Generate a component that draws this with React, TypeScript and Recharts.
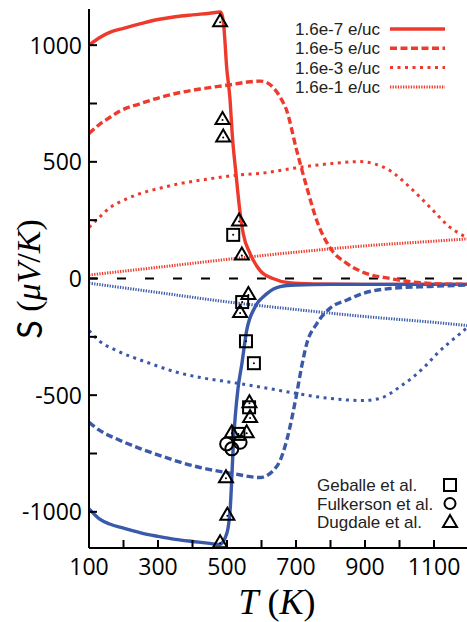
import React from "react";
import { ComposedChart, Line, Scatter, XAxis, YAxis, ReferenceLine } from "recharts";

const RED = "#ee3a2c";
const BLUE = "#3b59aa";

// T (K) vs S (µV/K), one array per doping level
const pos7: [number, number][] = [
  [100, 1000], [130, 1032], [160, 1055], [200, 1072], [250, 1092], [300, 1110], [350, 1122],
  [400, 1130], [450, 1137], [480, 1142], [486, 1128], [491, 1077], [499, 906], [509, 763],
  [515, 621], [526, 450], [536, 306], [547, 193], [567, 107], [596, 34], [633, 0], [680, -18],
  [750, -23], [900, -25], [1200, -25],
];
const neg7: [number, number][] = [
  [100, -987], [130, -1030], [160, -1052], [200, -1070], [250, -1090], [300, -1105], [350, -1118],
  [400, -1127], [450, -1135], [478, -1140], [495, -1110], [505, -1050], [510, -970], [514, -852],
  [518, -720], [524, -590], [532, -470], [543, -366], [557, -223], [581, -123], [615, -66],
  [654, -35], [700, -28], [800, -25], [1200, -25],
];
const pos5: [number, number][] = [
  [100, 621], [130, 660], [160, 690], [190, 718], [250, 750], [306, 776], [364, 797], [422, 812],
  [517, 832], [560, 842], [596, 846], [615, 840], [633, 820], [653, 780], [673, 720], [702, 549],
  [731, 392], [760, 249], [798, 133], [848, 64], [894, 27], [972, 0], [1088, -21], [1200, -25],
];
const neg5: [number, number][] = [
  [100, -616], [130, -650], [190, -694], [250, -730], [306, -759], [364, -787], [422, -810],
  [517, -836], [596, -853], [634, -823], [654, -780], [673, -694], [702, -494], [716, -380],
  [731, -280], [760, -194], [798, -128], [848, -92], [894, -64], [972, -43], [1088, -34], [1200, -28],
];
const pos3: [number, number][] = [
  [100, 219], [130, 262], [161, 304], [200, 335], [248, 364], [300, 385], [364, 407], [440, 425],
  [517, 441], [605, 452], [700, 474], [749, 484], [820, 495], [885, 501], [930, 490], [972, 463],
  [1030, 391], [1088, 306], [1146, 220], [1185, 184], [1200, 175],
];
const neg3: [number, number][] = [
  [100, -223], [130, -268], [181, -309], [277, -364], [350, -400], [422, -424], [517, -446],
  [605, -467], [702, -493], [798, -514], [894, -523], [940, -515], [972, -494], [1000, -465],
  [1039, -423], [1075, -375], [1108, -323], [1140, -280], [1175, -237], [1200, -205],
];
const pos1: [number, number][] = [
  [100, 15], [300, 48], [500, 82], [700, 113], [900, 140], [1100, 160], [1200, 170],
];
const neg1: [number, number][] = [
  [100, -20], [300, -60], [500, -100], [700, -133], [900, -163], [1100, -188], [1200, -202],
];

// experiments
const geballe: [number, number][] = [
  [518, 187], [544, -101], [555, -269], [578, -363], [564, -552], [533, -666],
];
const fulkerson: [number, number][] = [
  [499, -709], [514, -730], [538, -702],
];
const dugdale: [number, number][] = [
  [480, 1103], [487, 684], [489, 609], [535, 249], [543, 103], [562, -66], [538, -144],
  [565, -530], [567, -594], [514, -659], [557, -659], [497, -852], [501, -1012], [480, -1130],
];

const xTicks = [100, 200, 300, 400, 500, 600, 700, 800, 900, 1000, 1100, 1200];
const yTicks = [-1000, -750, -500, -250, 0, 250, 500, 750, 1000];
const legendLabels = ["1.6e-7 e/uc", "1.6e-5 e/uc", "1.6e-3 e/uc", "1.6e-1 e/uc"];
const expLabels = ["Geballe et al.", "Fulkerson et al.", "Dugdale et al."];

const pts = (a: [number, number][]) => a.map(([x, y]) => ({ x, y }));

const styles = [
  { dash: undefined, width: 3.4 },
  { dash: "7 3.5", width: 3.4 },
  { dash: "3 4.5", width: 3 },
  { dash: "1.3 1.3", width: 3 },
];

const series = [
  { id: "pos7", data: pos7, color: RED, s: 0 },
  { id: "neg7", data: neg7, color: BLUE, s: 0 },
  { id: "pos5", data: pos5, color: RED, s: 1 },
  { id: "neg5", data: neg5, color: BLUE, s: 1 },
  { id: "pos3", data: pos3, color: RED, s: 2 },
  { id: "neg3", data: neg3, color: BLUE, s: 2 },
  { id: "pos1", data: pos1, color: RED, s: 3 },
  { id: "neg1", data: neg1, color: BLUE, s: 3 },
];

const TICK_FONT = "'Open Sans', sans-serif";

const BottomTick = ({ x, y, payload }: any) => {
  const v = payload.value;
  return (
    <g>
      <line x1={x} x2={x} y1={y} y2={y - 8} stroke="#000" strokeWidth={2} />
      {v % 200 === 100 ? (
        <text x={x} y={y + 27} textAnchor="middle" fontSize={23} fontFamily={TICK_FONT} fill="#000">
          {v}
        </text>
      ) : null}
    </g>
  );
};

const TopTick = ({ x, y }: any) => (
  <line x1={x} x2={x} y1={y} y2={y + 8} stroke="#000" strokeWidth={2} />
);

const LeftTick = ({ x, y, payload }: any) => {
  const v = payload.value;
  return (
    <g>
      <line x1={x} x2={x + 8} y1={y} y2={y} stroke="#000" strokeWidth={2} />
      {v % 500 === 0 ? (
        <text x={x - 7} y={y + 8.5} textAnchor="end" fontSize={23} fontFamily={TICK_FONT} fill="#000">
          {v}
        </text>
      ) : null}
    </g>
  );
};

const RightTick = ({ x, y }: any) => (
  <line x1={x} x2={x - 8} y1={y} y2={y} stroke="#000" strokeWidth={2} />
);

const Square = ({ cx, cy }: any) => (
  <g>
    <rect x={cx - 6} y={cy - 6} width={12} height={12} fill="none" stroke="#000" strokeWidth={2} />
    <circle cx={cx} cy={cy} r={1} fill="#000" />
  </g>
);
const Circle = ({ cx, cy }: any) => (
  <circle cx={cx} cy={cy} r={6.5} fill="none" stroke="#000" strokeWidth={2} />
);
const Triangle = ({ cx, cy }: any) => (
  <g>
    <polygon
      points={`${cx},${cy - 7} ${cx - 7},${cy + 5} ${cx + 7},${cy + 5}`}
      fill="none"
      stroke="#000"
      strokeWidth={2}
      strokeLinejoin="miter"
    />
    <circle cx={cx} cy={cy + 1} r={1} fill="#000" />
  </g>
);

const YLabel = () => (
  <text transform="translate(28,279) rotate(-90)" textAnchor="middle" dominantBaseline="central" fontSize={34} fill="#000">
    <tspan fontFamily="Lato, sans-serif">S</tspan>
    <tspan fontFamily="'Liberation Serif', serif"> (</tspan>
    <tspan fontFamily="'Liberation Serif', serif" fontStyle="italic">μV</tspan>
    <tspan fontFamily="'Liberation Serif', serif">/</tspan>
    <tspan fontFamily="'Liberation Serif', serif" fontStyle="italic">K</tspan>
    <tspan fontFamily="'Liberation Serif', serif">)</tspan>
  </text>
);

const XLabel = () => (
  <text x={277} y={614} textAnchor="middle" fontSize={36} fontFamily="'Liberation Serif', serif" fill="#000">
    <tspan fontStyle="italic">T</tspan>
    <tspan> (</tspan>
    <tspan fontStyle="italic">K</tspan>
    <tspan>)</tspan>
  </text>
);

const markerShapes = [Square, Circle, Triangle];

export default function App() {
  return (
    <div style={{ position: "absolute", left: 0, top: 0, width: 467, height: 622, overflow: "hidden", background: "#fff" }}>
      <ComposedChart width={480} height={622} margin={{ top: 9, right: 11.5, bottom: 0, left: 0 }}>
        <XAxis
          xAxisId="b"
          type="number"
          dataKey="x"
          domain={[100, 1200]}
          ticks={xTicks}
          allowDataOverflow
          height={74}
          tickSize={0}
          tickMargin={0}
          tickLine={false}
          axisLine={{ stroke: "#000", strokeWidth: 2 }}
          tick={<BottomTick />}
          interval={0}
          label={<XLabel />}
        />
        <XAxis
          xAxisId="t"
          orientation="top"
          type="number"
          dataKey="x"
          domain={[100, 1200]}
          ticks={xTicks}
          allowDataOverflow
          height={0}
          tickSize={0}
          tickMargin={0}
          tickLine={false}
          axisLine={{ stroke: "#000", strokeWidth: 2 }}
          tick={<TopTick />}
          interval={0}
        />
        <YAxis
          yAxisId="l"
          type="number"
          domain={[-1155, 1155]}
          ticks={yTicks}
          allowDataOverflow
          width={89}
          tickSize={0}
          tickMargin={0}
          tickLine={false}
          axisLine={{ stroke: "#000", strokeWidth: 2 }}
          tick={<LeftTick />}
          interval={0}
          label={<YLabel />}
        />
        <YAxis
          yAxisId="r"
          orientation="right"
          type="number"
          domain={[-1155, 1155]}
          ticks={yTicks}
          allowDataOverflow
          width={0}
          tickSize={0}
          tickMargin={0}
          tickLine={false}
          axisLine={{ stroke: "#000", strokeWidth: 2 }}
          tick={<RightTick />}
          interval={0}
        />
        <ReferenceLine xAxisId="b" yAxisId="l" y={0} stroke="#000" strokeWidth={2} strokeDasharray="9 19" />
        {series.map((s) => (
          <Line
            key={s.id}
            xAxisId="b"
            yAxisId="l"
            data={pts(s.data)}
            dataKey="y"
            type="monotone"
            stroke={s.color}
            strokeWidth={styles[s.s].width}
            strokeDasharray={styles[s.s].dash}
            dot={false}
            activeDot={false}
            isAnimationActive={false}
          />
        ))}
        {[geballe, fulkerson, dugdale].map((d, i) => (
          <Scatter
            key={i}
            xAxisId="b"
            yAxisId="l"
            data={pts(d)}
            dataKey="y"
            shape={markerShapes[i]}
            isAnimationActive={false}
          />
        ))}
      </ComposedChart>
      <svg width={467} height={622} style={{ position: "absolute", left: 0, top: 0, pointerEvents: "none" }}>
        {legendLabels.map((t, i) => {
          const cy = 29 + i * 19.3;
          return (
            <g key={t}>
              <text x={295} y={cy + 6} fontSize={17} fontFamily="'Liberation Sans', Arial, sans-serif" fill="#222">
                {t}
              </text>
              <line
                x1={390}
                x2={445}
                y1={cy}
                y2={cy}
                stroke={RED}
                strokeWidth={styles[i].width}
                strokeDasharray={styles[i].dash}
              />
            </g>
          );
        })}
        {expLabels.map((t, i) => {
          const cy = 485 + i * 18.5;
          const M = markerShapes[i];
          return (
            <g key={t}>
              <text x={317} y={cy + 6} fontSize={17} fontFamily="'Liberation Sans', Arial, sans-serif" fill="#222">
                {t}
              </text>
              {i === 0 ? (
                <rect x={444} y={cy - 6} width={12} height={12} fill="none" stroke="#000" strokeWidth={2} />
              ) : i === 1 ? (
                <circle cx={450} cy={cy} r={5.5} fill="none" stroke="#000" strokeWidth={2} />
              ) : (
                <polygon points={`450,${cy - 7} 443,${cy + 5} 457,${cy + 5}`} fill="none" stroke="#000" strokeWidth={2} />
              )}
              {M ? null : null}
            </g>
          );
        })}
      </svg>
    </div>
  );
}
